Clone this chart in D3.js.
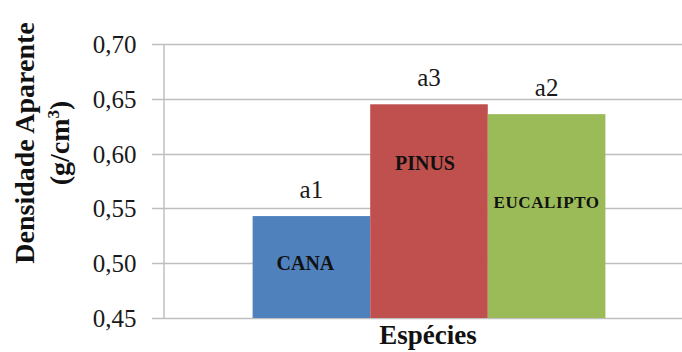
<!DOCTYPE html>
<html>
<head>
<meta charset="utf-8">
<script src="https://cdn.jsdelivr.net/npm/d3@7"></script>
<style>
  html, body { margin: 0; padding: 0; background: #fff; }
  svg { display: block; }
  svg text { font-family: "Liberation Serif", "Times New Roman", serif; }
</style>
</head>
<body>
<svg id="chart" width="682" height="352"></svg>
<script>
// Apparent density by species
const species = ["CANA", "PINUS", "EUCALIPTO"];
const density = [0.543, 0.645, 0.636];
const letters = ["a1", "a3", "a2"];
const colors = ["#4f81bd", "#c0504d", "#9bbb59"];
const yTicks = [0.45, 0.50, 0.55, 0.60, 0.65, 0.70];
const groupLabel = "Espécies";

const SERIF = '"Liberation Serif", "Times New Roman", serif';
const svg = d3.select("#chart");
const W = 682, H = 352;
const x0 = 163, x1 = 695;          // plot runs past the right edge
const y0 = 318, y1 = 44;

const y = d3.scaleLinear().domain([0.45, 0.70]).range([y0, y1]);
// one category band holding the three species bars
const xGroup = d3.scaleBand().domain([groupLabel]).range([x0, x1]).paddingInner(0).paddingOuter(0.254);
const xBar = d3.scaleBand().domain(species)
  .range([xGroup(groupLabel), xGroup(groupLabel) + xGroup.bandwidth()]);

// gridlines with short outer ticks
svg.append("g").selectAll("line").data(yTicks).join("line")
  .attr("x1", x0 - 11).attr("x2", W)
  .attr("y1", d => Math.round(y(d)) + 0.5).attr("y2", d => Math.round(y(d)) + 0.5)
  .attr("stroke", "#bfbfbf").attr("stroke-width", 1.5);

// y axis
const fmt = d => d.toFixed(2).replace(".", ",");
const yAxis = d3.axisLeft(y).tickValues(yTicks).tickFormat(fmt).tickSize(0).tickPadding(27);
const gy = svg.append("g").attr("transform", `translate(${x0 + 0.5},0)`).call(yAxis);
gy.attr("font-family", null);
gy.select(".domain").attr("stroke", "#bfbfbf").attr("stroke-width", 1.5);
gy.selectAll("text").style("font-family", SERIF).attr("font-size", 25).attr("fill", "#1a1a1a")
  .attr("dy", "0.34em");

// bars
svg.append("g").selectAll("rect").data(species).join("rect")
  .attr("x", d => xBar(d)).attr("width", xBar.bandwidth())
  .attr("y", (d, i) => y(density[i])).attr("height", (d, i) => y0 - y(density[i]))
  .attr("fill", (d, i) => colors[i]);

// significance letters above bars
svg.append("g").selectAll("text").data(letters).join("text")
  .attr("x", (d, i) => xBar(species[i]) + xBar.bandwidth() / 2)
  .attr("y", (d, i) => y(density[i]) - 18)
  .attr("text-anchor", "middle").attr("font-size", 25).attr("fill", "#1a1a1a")
  .style("font-family", SERIF)
  .text(d => d);

// species names inside bars
const namePos = [0.4938, 0.585, 0.550];
const nameSize = [20, 20, 17];
const nameShift = [-6, -4, 0];
svg.append("g").selectAll("text").data(species).join("text")
  .attr("x", (d, i) => xBar(d) + xBar.bandwidth() / 2 + nameShift[i])
  .attr("y", (d, i) => y(namePos[i]))
  .attr("text-anchor", "middle").attr("font-weight", "bold")
  .attr("font-size", (d, i) => nameSize[i]).attr("fill", "#111")
  .attr("letter-spacing", (d, i) => i === 2 ? 0.6 : 0)
  .style("font-family", SERIF)
  .text(d => d);

// axis titles
svg.append("text")
  .attr("x", xGroup(groupLabel) + xGroup.bandwidth() / 2 - 1).attr("y", 344)
  .attr("text-anchor", "middle").attr("font-weight", "bold").attr("font-size", 27)
  .attr("fill", "#111").style("font-family", SERIF).text(groupLabel);

const yt = svg.append("text")
  .attr("transform", "translate(0,143) rotate(-90)")
  .attr("text-anchor", "middle").attr("font-weight", "bold").attr("font-size", 28)
  .attr("fill", "#111").style("font-family", SERIF);
yt.append("tspan").attr("x", 0).attr("y", 34).text("Densidade Aparente");
const t2 = yt.append("tspan").attr("x", 0).attr("y", 69).text("(g/cm");
t2.append("tspan").attr("font-size", 17).attr("dy", -10).text("3");
t2.append("tspan").attr("dy", 10).text(")");
</script>
</body>
</html>
